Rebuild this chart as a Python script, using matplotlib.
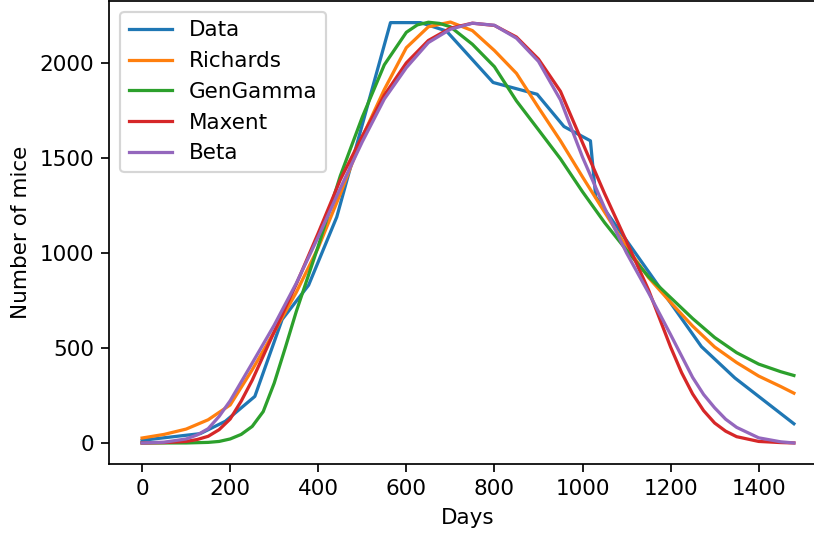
import matplotlib
matplotlib.use("Agg")
import matplotlib.pyplot as plt

# observed data (days, number of mice)
data_days = [0, 132, 189, 256, 318, 378, 442, 564, 632, 691, 797, 897, 958,
             1018, 1030, 1270, 1346, 1480]
data_mice = [14, 49, 114, 245, 650, 830, 1189, 2212, 2212, 2168, 1897, 1835,
             1665, 1590, 1295, 507, 342, 101]

# fitted curves (extra points where they bend hard)
rich_days = [0, 50, 100, 150, 200, 250, 300, 350, 400, 450, 500, 550, 600, 650,
             700, 750, 800, 850, 900, 950, 1000, 1050, 1100, 1150, 1200, 1250,
             1300, 1350, 1400, 1450, 1480]
richards = [26, 45, 73, 122, 200, 385, 585, 792, 1028, 1310, 1610, 1860, 2080,
            2190, 2215, 2170, 2065, 1945, 1765, 1590, 1400, 1215, 1031, 870,
            740, 615, 505, 423, 352, 297, 262]

gg_days = [0, 50, 100, 150, 175, 200, 225, 250, 275, 300, 325, 350, 400, 450,
           500, 550, 600, 625, 650, 675, 700, 750, 800, 850, 900, 950, 1000,
           1050, 1100, 1150, 1200, 1250, 1300, 1350, 1400, 1450, 1480]
gengamma = [0, 0, 0, 3, 8, 21, 45, 87, 165, 315, 500, 691, 1036, 1405, 1715,
            1990, 2161, 2200, 2214, 2208, 2190, 2098, 1980, 1800, 1648, 1495,
            1322, 1160, 1014, 875, 765, 655, 555, 475, 415, 375, 355]

max_days = [0, 50, 100, 125, 150, 175, 200, 225, 250, 300, 350, 400, 450, 500,
            550, 600, 650, 700, 750, 800, 850, 900, 950, 1000, 1050, 1100,
            1150, 1200, 1225, 1250, 1275, 1300, 1325, 1350, 1400, 1450, 1480]
maxent = [0, 2, 8, 18, 35, 70, 126, 220, 330, 585, 835, 1105, 1385, 1615, 1830,
          2000, 2118, 2183, 2209, 2197, 2136, 2020, 1850, 1580, 1313, 1060, 805,
          505, 370, 258, 170, 105, 62, 33, 8, 2, 0]

beta_days = [0, 50, 100, 125, 150, 175, 200, 250, 300, 350, 400, 450, 500, 550,
             600, 650, 700, 750, 800, 850, 900, 950, 1000, 1050, 1100, 1150,
             1200, 1250, 1275, 1300, 1325, 1350, 1400, 1450, 1480]
beta = [0, 4, 21, 42, 75, 140, 222, 420, 620, 840, 1085, 1340, 1585, 1810,
        1975, 2107, 2177, 2209, 2198, 2130, 2008, 1805, 1504, 1238, 1000, 790,
        570, 345, 255, 185, 125, 82, 27, 6, 0]

dpi = 155
fig = plt.figure(figsize=(814 / dpi, 533 / dpi), dpi=dpi)
# the original was cropped on the right, so the axes run past the edge
ax = fig.add_axes([109.5 / 814, 69 / 533, 717 / 814, 463 / 533])

ax.plot(data_days, data_mice, label="Data")
ax.plot(rich_days, richards, label="Richards")
ax.plot(gg_days, gengamma, label="GenGamma")
ax.plot(max_days, maxent, label="Maxent")
ax.plot(beta_days, beta, label="Beta")

ax.set_xlabel("Days")
ax.set_ylabel("Number of mice")
ax.legend(loc="upper left")

fig.savefig("out.png", dpi=dpi)
